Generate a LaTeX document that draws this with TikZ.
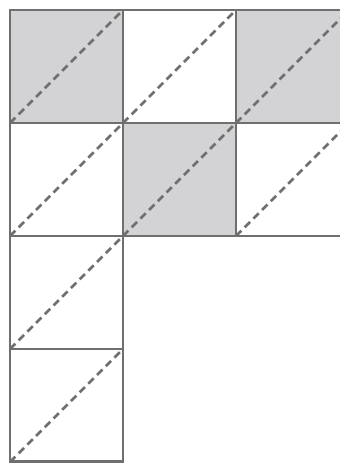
\documentclass[tikz,border=0pt]{standalone}
\usepackage{tikz}
\usetikzlibrary{positioning}
\definecolor{edgegray}{HTML}{6F6F6F}
\definecolor{shadegray}{HTML}{D3D3D5}

\begin{document}
\begin{tikzpicture}[x=2cm, y=2cm,
    cell/.style={draw=edgegray, line width=1.5pt, minimum size=2cm, inner sep=0pt, outer sep=0pt},
    diag/.style={draw=edgegray, line width=1.4pt, dash pattern=on 3.8pt off 2.4pt}]
    \clip (-0.0885,0.0885) rectangle (2.920,-4.009);
    % Row 1
    \node[cell, fill=shadegray] (c11) at (0.5,-0.5) {};
    \node[cell] (c12) at (1.5,-0.5) {};
    \node[cell, fill=shadegray] (c13) at (2.5,-0.5) {};
    % Row 2
    \node[cell] (c21) at (0.5,-1.5) {};
    \node[cell, fill=shadegray] (c22) at (1.5,-1.5) {};
    \node[cell] (c23) at (2.5,-1.5) {};
    % Row 3
    \node[cell] (c31) at (0.5,-2.5) {};
    % Row 4
    \node[cell] (c41) at (0.5,-3.5) {};
    % diagonals
    \foreach \c in {c11,c12,c13,c21,c22,c23,c31,c41}
        \draw[diag] (\c.south west) -- (\c.north east);
\end{tikzpicture}
\end{document}
